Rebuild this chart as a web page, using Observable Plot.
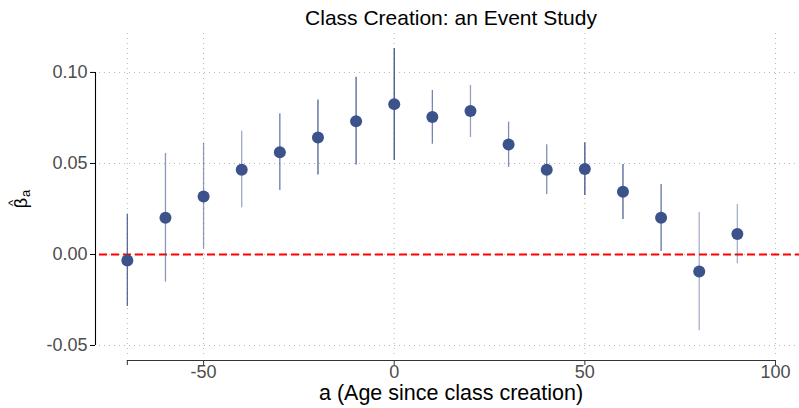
<!DOCTYPE html>
<html><head><meta charset="utf-8">
<script src="https://cdn.jsdelivr.net/npm/d3@7"></script>
<script src="https://cdn.jsdelivr.net/npm/@observablehq/plot@0.6"></script>
<style>body{margin:0;background:#fff} svg{display:block}</style>
</head><body><div id="chart"></div>
<script>
const ages    = [-70, -60, -50, -40, -30, -20, -10, 0, 10, 20, 30, 40, 50, 60, 70, 80, 90];
const beta    = [-0.0033, 0.0202, 0.0319, 0.0465, 0.0562, 0.0643, 0.0732, 0.0826, 0.0755, 0.0788, 0.0604, 0.0465, 0.0469, 0.0344, 0.0202, -0.0093, 0.0112];
const ciLow   = [-0.0286, -0.0152, 0.0031, 0.0257, 0.0352, 0.0436, 0.0491, 0.0516, 0.0606, 0.0643, 0.0478, 0.0330, 0.0324, 0.0192, 0.0016, -0.0419, -0.0051];
const ciHigh  = [0.0220, 0.0555, 0.0611, 0.0677, 0.0773, 0.0848, 0.0973, 0.1132, 0.0901, 0.0929, 0.0727, 0.0603, 0.0614, 0.0495, 0.0385, 0.0231, 0.0275];
const ciAlpha = [0.85, 0.6, 0.55, 0.5, 0.75, 0.9, 0.9, 1.0, 0.7, 0.55, 0.65, 0.65, 1.0, 0.9, 0.8, 0.45, 0.45];
const xTicks = [-70, -50, 0, 50, 100];
const yTicks = [-0.05, 0, 0.05, 0.10];
const titleText = "Class Creation: an Event Study";
const xTitle = "a (Age since class creation)";

const data = ages.map((a, i) => ({a, beta: beta[i], lo: ciLow[i], hi: ciHigh[i], w: ciAlpha[i]}));
const xDomain = [-77.3, 106.3];
const yDomain = [-0.0555, 0.1214];
const pointColor = "#3b528b";
const font = "'Liberation Sans', Arial, Helvetica, sans-serif";

const chart = Plot.plot({
  width: 799, height: 408,
  marginLeft: 99, marginRight: 0, marginTop: 33, marginBottom: 53,
  style: {fontFamily: font, background: "#fff", overflow: "visible"},
  x: {domain: xDomain},
  y: {domain: yDomain},
  opacity: {type: "identity"},
  marks: [
    Plot.gridX(xTicks, {stroke: "#b5b5b5", strokeOpacity: 1, strokeDasharray: "1,4"}),
    Plot.gridY(yTicks, {stroke: "#b5b5b5", strokeOpacity: 1, strokeDasharray: "1,4"}),
    Plot.ruleY([0], {stroke: "#ff0000", strokeWidth: 2, strokeDasharray: "8,4"}),
    Plot.ruleX(data, {x: "a", y1: "lo", y2: "hi", stroke: pointColor, strokeOpacity: "w", strokeWidth: 1.3}),
    Plot.dot(data, {x: "a", y: "beta", r: 6, fill: pointColor, stroke: "none"}),
    Plot.ruleY([yDomain[0]], {x1: xTicks[0], x2: xTicks[xTicks.length - 1], dy: 5, stroke: "#333", strokeWidth: 1.1}),
    Plot.ruleX([xDomain[0]], {y1: yTicks[0], y2: yTicks[yTicks.length - 1], dx: -4, stroke: "#000", strokeWidth: 1.1}),
    Plot.axisX(xTicks, {tickFormat: d => d === -70 ? "" : String(d), tickSize: 5, tickPadding: 0, dy: 5, fontSize: 18, stroke: "#333", fill: "#4d4d4d", label: null}),
    Plot.axisY(yTicks, {tickFormat: d => d.toFixed(2), tickSize: 5, tickPadding: 3, dx: -4, fontSize: 18, stroke: "#000", fill: "#4d4d4d", label: null})
  ]
});
document.getElementById("chart").appendChild(chart);

const svg = d3.select(chart);
svg.append("text").attr("x", 451).attr("y", 25).attr("text-anchor", "middle")
  .attr("font-family", font).attr("font-size", 21).attr("fill", "#000").text(titleText);
svg.append("text").attr("x", 451).attr("y", 400).attr("text-anchor", "middle")
  .attr("font-family", font).attr("font-size", 21.5).attr("fill", "#000").text(xTitle);
// y-axis title: hat(beta) with subscript a, rotated
const yl = svg.append("g").attr("transform", "translate(27,200) rotate(-90)")
  .attr("font-family", font).attr("fill", "#000");
yl.append("text").attr("x", -3).attr("y", 0).attr("text-anchor", "middle").attr("font-size", 18).text("\u03B2");
yl.append("text").attr("x", -3).attr("y", -10).attr("text-anchor", "middle").attr("font-size", 13).text("^");
yl.append("text").attr("x", 3).attr("y", 3).attr("text-anchor", "start").attr("font-size", 13).text("a");
</script>
</body></html>
